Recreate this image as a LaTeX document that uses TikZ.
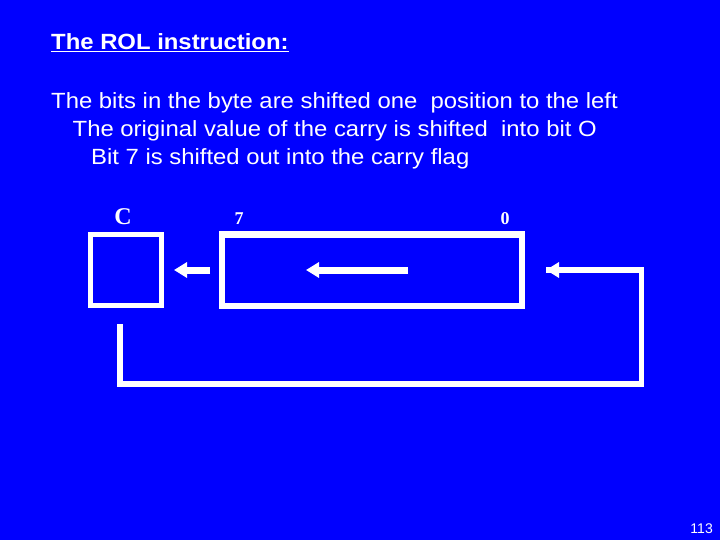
\documentclass[tikz,border=0pt]{standalone}
\usepackage{fontspec}
\setmainfont{Liberation Sans}
\newfontfamily\serifface{Liberation Serif}
\usetikzlibrary{arrows.meta}
\definecolor{slideblue}{RGB}{0,0,255}
\newcommand{\widen}[1]{\scalebox{1.085}[1]{#1}}
\begin{document}
\begin{tikzpicture}[x=1pt,y=-1pt,
  txt/.style={anchor=base west,inner sep=0pt,text=white,font=\fontsize{22}{26}\selectfont},
  lbl/.style={anchor=base,inner sep=0pt,text=white},
  regbox/.style={draw=white,rectangle,inner sep=0pt},
  shiftarrow/.style={draw=white,line width=7pt,-{Triangle[length=13pt,width=15pt]}},
  loopline/.style={draw=white,line width=5.5pt,line join=miter},
]
\fill[slideblue] (0,0) rectangle (720,540);
\useasboundingbox (0,0) rectangle (720,540);

% title and text
\node[txt,font=\fontsize{22}{26}\selectfont\bfseries] (title) at (51,50) {\widen{\underline{The ROL instruction:}}};
\node[txt] (l1) at (51,109) {\widen{The bits in the byte are shifted one\ \ position to the left}};
\node[txt] (l2) at (72.5,137) {\widen{The original value of the carry is shifted\ \ into bit O}};
\node[txt] (l3) at (91,165) {\widen{Bit 7 is shifted out into the carry flag}};

% labels
\node[lbl,font=\serifface\bfseries\fontsize{24}{28}\selectfont] (lc) at (123,225) {C};
\node[lbl,font=\serifface\bfseries\fontsize{18}{20}\selectfont] (l7) at (239,225) {7};
\node[lbl,font=\serifface\bfseries\fontsize{18}{20}\selectfont] (l0) at (505,225) {0};

% boxes
\node[regbox,line width=5pt,minimum width=70.5pt,minimum height=70.5pt] (cbox) at (125.75,269.75) {};
\node[regbox,line width=6pt,minimum width=300pt,minimum height=71.5pt] (byte) at (372,270.25) {};

% arrow byte -> carry
\coordinate (a1s) at (210,270);
\coordinate (a1e) at (174,270);
\draw[shiftarrow] (a1s) -- (a1e);

% arrow inside byte
\coordinate (a2s) at (408,270);
\coordinate (a2e) at (306,270);
\draw[shiftarrow] (a2s) -- (a2e);

% loop carry -> bit 0
\coordinate (p1) at (120,324);
\coordinate (p2) at (120,384);
\coordinate (p3) at (641.5,384);
\coordinate (p4) at (641.5,270);
\coordinate (p5) at (546,270);
\draw[loopline] (p1) -- (p2) -- (p3) -- (p4) -- (p5);
\draw[draw=white,line width=5.5pt,-{Triangle[length=13pt,width=15pt]}] (p4) ++(-3,0) -- (p5);

% page number
\node[anchor=base east,inner sep=0pt,text=white,font=\fontsize{14}{16}\selectfont] (pg) at (713,533) {113};
\end{tikzpicture}
\end{document}
